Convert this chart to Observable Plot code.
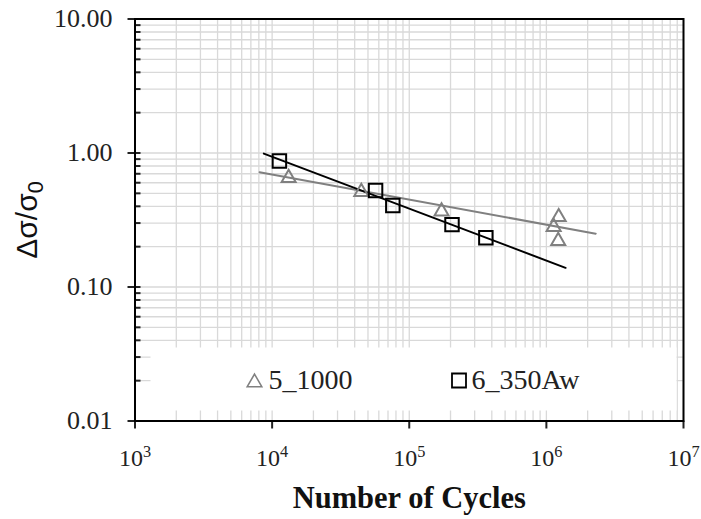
<!DOCTYPE html>
<html><head><meta charset="utf-8">
<script src="https://cdn.jsdelivr.net/npm/d3@7"></script>
<script src="https://cdn.jsdelivr.net/npm/@observablehq/plot@0.6"></script>
<style>
html,body{margin:0;padding:0;background:#fff;}
#chart{width:701px;height:519px;}
</style></head><body><div id="chart"></div>
<script>
// Series 5_1000 (triangles)
const s1Cycles = [13200, 44700, 172000, 1230000, 1130000, 1220000];
const s1Stress = [0.652, 0.513, 0.367, 0.333, 0.281, 0.221];
// Series 6_350Aw (squares)
const s2Cycles = [11300, 56800, 75900, 205000, 362000];
const s2Stress = [0.871, 0.525, 0.406, 0.292, 0.233];
// Power-law fit lines (end points)
const fit1Cycles = [8100, 2290000];
const fit1Stress = [0.719, 0.250];
const fit2Cycles = [8700, 1380000];
const fit2Stress = [0.99, 0.139];
const seriesNames = ["5_1000", "6_350Aw"];
const xTickValues = [1e3, 1e4, 1e5, 1e6, 1e7];
const xTickBase = "10";
const xTickExponents = ["3", "4", "5", "6", "7"];
const yTickValues = [0.01, 0.1, 1, 10];
const yTickLabels = ["0.01", "0.10", "1.00", "10.00"];
const xTitle = "Number of Cycles";
const yTitleMain = "Δσ/σ";
const yTitleSub = "0";

const serif = "Liberation Serif";
const sans = "Liberation Sans";
const xMinor = d3.scaleLog().domain([1e3, 1e7]).ticks();
const yMinor = d3.scaleLog().domain([0.01, 10]).ticks();
const gray = "#808080";
const nearest = (values, d) => d3.minIndex(values, v => Math.abs(Math.log10(v) - Math.log10(d)));

const plot = Plot.plot({
  width: 701,
  height: 519,
  marginLeft: 134.5,
  marginRight: 18,
  marginTop: 18.5,
  marginBottom: 98.5,
  style: {fontFamily: serif, fontSize: "24px", color: "#222", background: "white", overflow: "visible"},
  x: {type: "log", domain: [1e3, 1e7]},
  y: {type: "log", domain: [0.01, 10]},
  marks: [
    Plot.gridX(xMinor, {stroke: "#d9d9d9", strokeOpacity: 1, strokeWidth: 1.3}),
    Plot.gridY(yMinor, {stroke: "#d9d9d9", strokeOpacity: 1, strokeWidth: 1.3}),
    Plot.frame({fill: "white", stroke: "none", insetLeft: 15.5, insetRight: 7, insetTop: 328.5, insetBottom: 10.5}),
    Plot.axisY(yMinor, {tickSize: -6, text: null, strokeWidth: 2, label: null}),
    Plot.axisY(yTickValues, {tickSize: 7, tickPadding: 15.5, strokeWidth: 2,
      tickFormat: d => yTickLabels[nearest(yTickValues, d)], fontSize: 26, fontFamily: serif, label: null}),
    Plot.axisX(xTickValues, {tickSize: 8, tickPadding: 19.5, strokeWidth: 2,
      tickFormat: d => xTickBase + xTickExponents[nearest(xTickValues, d)], fontSize: 24, fontFamily: serif, label: null}),
    Plot.frame({stroke: "black", strokeWidth: 2}),
    Plot.line(fit1Cycles, {x: fit1Cycles, y: fit1Stress, stroke: gray, strokeWidth: 2}),
    Plot.line(fit2Cycles, {x: fit2Cycles, y: fit2Stress, stroke: "black", strokeWidth: 2}),
    Plot.dot(s1Cycles, {x: s1Cycles, y: s1Stress, symbol: "triangle", r: 5.2, stroke: gray, strokeWidth: 2, fill: "none"}),
    Plot.dot(s2Cycles, {x: s2Cycles, y: s2Stress, symbol: "square", r: 7.6, stroke: "black", strokeWidth: 2, fill: "none"}),
    // legend
    Plot.dot([seriesNames[0]], {frameAnchor: "bottom-left", dx: 119.5, dy: -38.5, symbol: "triangle", r: 5.4, stroke: gray, strokeWidth: 1.6, fill: "none"}),
    Plot.text([seriesNames[0]], {frameAnchor: "bottom-left", dx: 133.5, dy: -41.2, text: d => d, textAnchor: "start", lineAnchor: "middle", fontSize: 28, fontFamily: serif, fill: "#222"}),
    Plot.dot([seriesNames[1]], {frameAnchor: "bottom-left", dx: 324, dy: -40.5, symbol: "square", r: 7.9, stroke: "black", strokeWidth: 1.8, fill: "none"}),
    Plot.text([seriesNames[1]], {frameAnchor: "bottom-left", dx: 336.5, dy: -41.2, text: d => d, textAnchor: "start", lineAnchor: "middle", fontSize: 28, fontFamily: serif, fill: "#222"}),
    // titles
    Plot.text([xTitle], {frameAnchor: "bottom", dy: 77, text: d => d, textAnchor: "middle", lineAnchor: "middle", fontSize: 30.5, fontWeight: "bold", fontFamily: serif, fill: "#111"}),
    Plot.text([yTitleMain], {frameAnchor: "left", dx: -108, rotate: -90, text: d => d, textAnchor: "middle", lineAnchor: "middle", fontSize: 30, fontFamily: sans, fill: "#111"})
  ]
});
const svg = d3.select(plot);
// subscript for the y title
svg.selectAll("text")
  .filter(function() { return this.textContent === yTitleMain; })
  .append("tspan").attr("dy", "0.3em").attr("font-size", "0.72em").text(yTitleSub);
// superscript exponents for the x tick labels
svg.selectAll("text")
  .filter(function() { return xTickExponents.some(e => this.textContent === xTickBase + e) && this.getAttribute("font-size") !== "28"; })
  .each(function() {
    const exp = this.textContent.slice(xTickBase.length);
    const t = d3.select(this);
    t.text(xTickBase);
    t.append("tspan").attr("dy", "-0.5em").attr("font-size", "0.68em").text(exp);
  });
document.getElementById("chart").appendChild(plot);
</script>
</body></html>
